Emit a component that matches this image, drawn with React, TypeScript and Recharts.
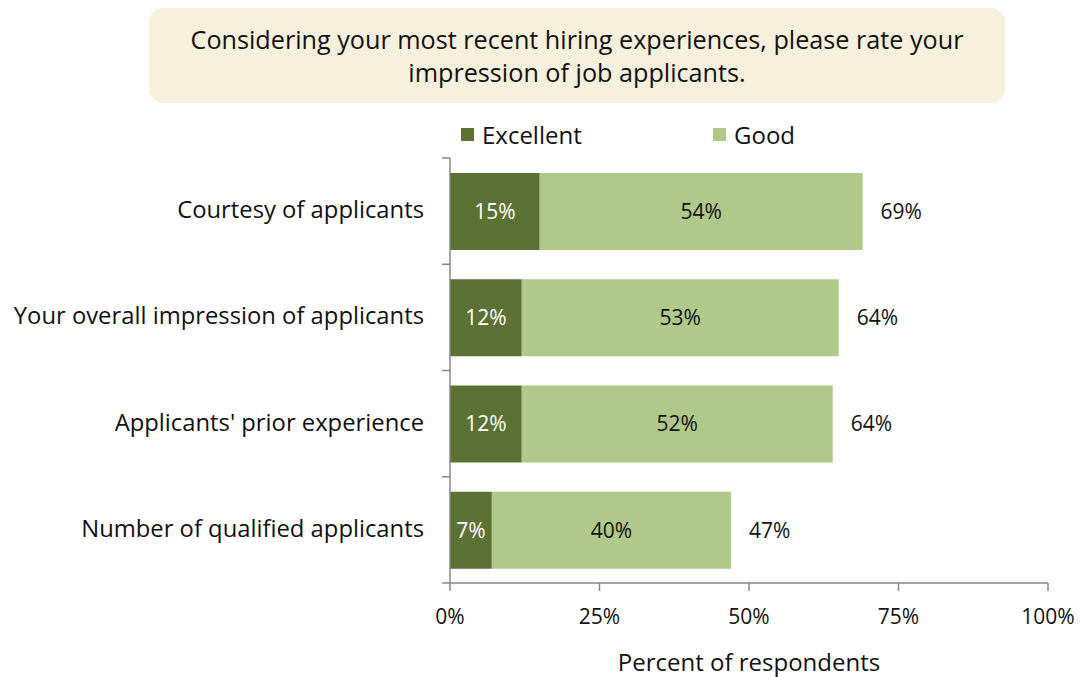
import { BarChart, Bar, XAxis, YAxis, Legend, LabelList } from "recharts";

const categories = [
  "Courtesy of applicants",
  "Your overall impression of applicants",
  "Applicants' prior experience",
  "Number of qualified applicants",
];
const excellent = [15, 12, 12, 7];
const good = [54, 53, 52, 40];
const totals = [69, 64, 64, 47];
const xTicks = [0, 25, 50, 75, 100];

const FONT = "'Open Sans', Lato, sans-serif";
const DARK = "#5C7234";
const LIGHT = "#B0C88A";
const AXIS = "#878787";

const W = 1080;
const H = 677;
const TOP = 158;
const Y_W = 450;
const X_H = 94;
const BAND = (H - TOP - X_H) / categories.length;

const data = categories.map((name, i) => ({
  name,
  excellent: excellent[i],
  good: good[i],
  total: totals[i],
}));

function CatTick(props: any) {
  const { x, y, payload, index } = props;
  const ax = Y_W;
  return (
    <g>
      <line x1={ax - 8} x2={ax} y1={y - BAND / 2} y2={y - BAND / 2} stroke={AXIS} strokeWidth={1.5} />
      {index === categories.length - 1 && (
        <line x1={ax - 8} x2={ax} y1={y + BAND / 2} y2={y + BAND / 2} stroke={AXIS} strokeWidth={1.5} />
      )}
      <text x={x} y={y} dy={7} textAnchor="end" fontSize={23.8} fill="#111" fontFamily={FONT}>
        {payload.value}
      </text>
    </g>
  );
}

function LegendBox(props: any) {
  const items = props.payload || [];
  return (
    <div style={{ display: "flex", fontFamily: FONT, fontSize: 24, color: "#111" }}>
      {items.map((it: any) => (
        <div key={it.value} style={{ display: "flex", alignItems: "center", width: 252 }}>
          <span style={{ width: 13, height: 13, background: it.color, marginRight: 8, display: "inline-block" }} />
          {it.value}
        </div>
      ))}
    </div>
  );
}

export default function App() {
  return (
    <div style={{ position: "absolute", left: 0, top: 0, width: W, height: H, background: "#fff" }}>
      <div
        style={{
          position: "absolute",
          left: 149,
          top: 8,
          width: 856,
          height: 95,
          borderRadius: 14,
          background: "#F7F0DC",
          fontFamily: FONT,
          fontSize: 25.2,
          lineHeight: "33px",
          color: "#111",
          textAlign: "center",
          paddingTop: 15,
          boxSizing: "border-box",
        }}
      >
        Considering your most recent hiring experiences, please rate your
        <br />
        impression of job applicants.
      </div>
      <BarChart
        width={W}
        height={H}
        data={data}
        layout="vertical"
        margin={{ top: TOP, right: 32, bottom: 0, left: 0 }}
        barCategoryGap="14%"
      >
        <XAxis
          type="number"
          domain={[0, 100]}
          ticks={xTicks}
          tickFormatter={(v: number) => `${v}%`}
          height={X_H}
          axisLine={{ stroke: AXIS, strokeWidth: 1.5 }}
          tickLine={{ stroke: AXIS, strokeWidth: 1.5 }}
          tickSize={8}
          tickMargin={18}
          tick={{ fontSize: 21, fill: "#111", fontFamily: FONT }}
          label={{ value: "Percent of respondents", position: "insideBottom", offset: 6, fontSize: 24, fill: "#111", fontFamily: FONT }}
        />
        <YAxis
          type="category"
          dataKey="name"
          width={Y_W}
          axisLine={{ stroke: AXIS, strokeWidth: 1.5 }}
          tickLine={false}
          tickSize={8}
          tickMargin={18}
          tick={<CatTick />}
          interval={0}
        />
        <Legend
          layout="horizontal"
          verticalAlign="middle"
          align="center"
          wrapperStyle={{ top: 118, left: 461, width: 520 }}
          content={<LegendBox />}
        />
        <Bar dataKey="excellent" name="Excellent" stackId="a" fill={DARK} isAnimationActive={false}>
          <LabelList dataKey="excellent" position="center" formatter={(v: any) => `${v}%`} fill="#fff" fontSize={21} fontFamily={FONT} />
        </Bar>
        <Bar dataKey="good" name="Good" stackId="a" fill={LIGHT} isAnimationActive={false}>
          <LabelList dataKey="good" position="center" formatter={(v: any) => `${v}%`} fill="#111" fontSize={21} fontFamily={FONT} />
          <LabelList dataKey="total" position="right" offset={18} formatter={(v: any) => `${v}%`} fill="#111" fontSize={21} fontFamily={FONT} />
        </Bar>
      </BarChart>
    </div>
  );
}
